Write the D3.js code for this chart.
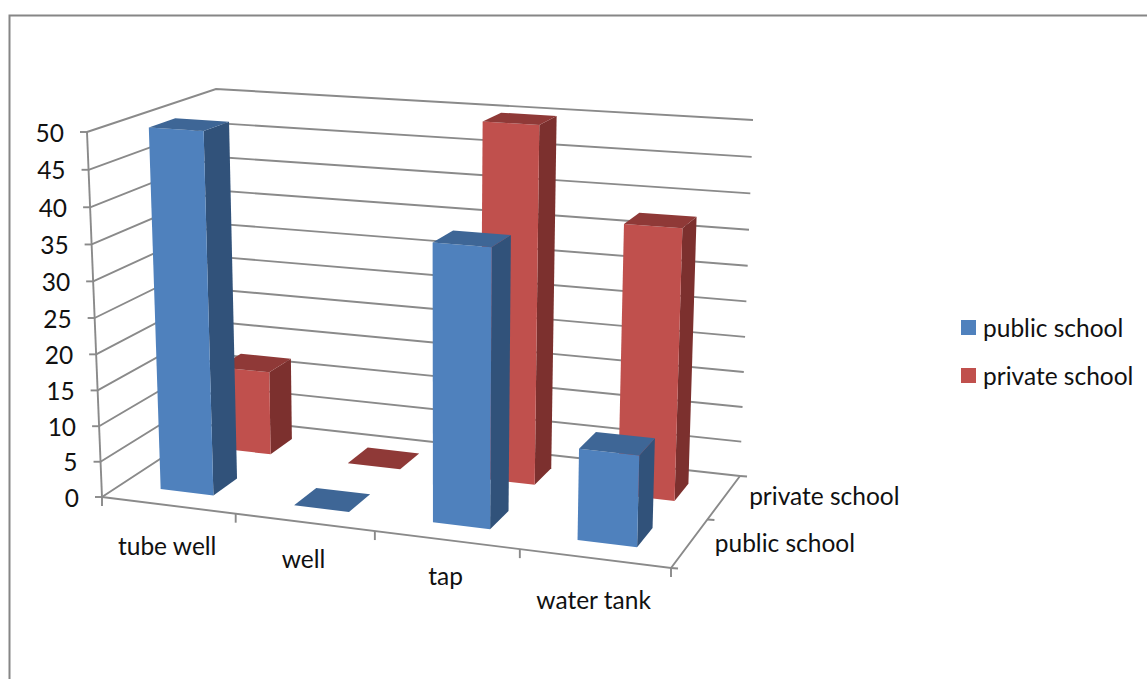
<!DOCTYPE html>
<html>
<head>
<meta charset="utf-8">
<script src="https://cdnjs.cloudflare.com/ajax/libs/d3/7.8.5/d3.min.js"></script>
<style>
  html, body { margin: 0; padding: 0; background: #fff; }
  svg { display: block; }
  text { font-family: Lato, "Open Sans", sans-serif; font-size: 24.5px; fill: #111; }
</style>
</head>
<body>
<svg id="chart" width="1147" height="679"></svg>
<script>
// Water source by school type
const categories = ["tube well", "well", "tap", "water tank"];
const seriesNames = ["public school", "private school"];
const publicValues = [50, 0, 37.5, 12.2];
const privateValues = [12.2, 0, 50, 37.5];
const yTicks = d3.range(0, 51, 5);

const seriesStyles = [
  { front: "#4f81bd", side: "#31527a", top: "#3e6696" },
  { front: "#c0504d", side: "#7c302e", top: "#8f3937" }
];
const gridColor = "#8a8a8a";

const width = 1147, height = 679;
const svg = d3.select("#chart").attr("viewBox", [0, 0, width, height]);

// Data coordinates to unit cube coordinates
const xUnit = d3.scaleLinear().domain([0, categories.length]).range([0, 1]);
const zUnit = d3.scaleLinear().domain([0, seriesNames.length]).range([0, 1]);
const yUnit = d3.scaleLinear().domain([0, 50]).range([0, 1]);

// Box corners on screen: front-left, front-right, back-right, back-left
const floorQuad = [[102, 497], [671, 568], [740, 476], [222, 418.5]];
const ceilingQuad = [[87, 132], [682, 171], [753, 120], [216, 89]];
// Height foreshortening: levels bunch slightly toward the floor
const heightBend = -0.0377;

// Square-to-quad homography
function quadMap(q) {
  const [[x0, y0], [x1, y1], [x2, y2], [x3, y3]] = q;
  const dx1 = x1 - x2, dx2 = x3 - x2, dx3 = x0 - x1 + x2 - x3;
  const dy1 = y1 - y2, dy2 = y3 - y2, dy3 = y0 - y1 + y2 - y3;
  const det = dx1 * dy2 - dx2 * dy1;
  const g = (dx3 * dy2 - dx2 * dy3) / det;
  const h = (dx1 * dy3 - dx3 * dy1) / det;
  const a = x1 - x0 + g * x1, b = x3 - x0 + h * x3;
  const d = y1 - y0 + g * y1, e = y3 - y0 + h * y3;
  return (u, t) => {
    const W = g * u + h * t + 1;
    return [(a * u + b * t + x0) / W, (d * u + e * t + y0) / W];
  };
}
const floorAt = quadMap(floorQuad), ceilingAt = quadMap(ceilingQuad);

// Project category position, series depth and value to the screen
function project(cat, depth, value) {
  const u = xUnit(cat), t = zUnit(depth), s = yUnit(value);
  const k = s * (1 + heightBend) / (1 + heightBend * s);
  const f = floorAt(u, t), c = ceilingAt(u, t);
  return [f[0] + (c[0] - f[0]) * k, f[1] + (c[1] - f[1]) * k];
}

const line = d3.line();
const polygon = pts => line(pts) + "Z";
const nCat = categories.length, nSer = seriesNames.length;

// Border of the chart area, running off the right and bottom edges
svg.append("path")
  .attr("d", `M9.5,${height}V15.5H${width}`)
  .attr("fill", "none").attr("stroke", "#868686").attr("stroke-width", 2);

// Wall gridlines
const grid = svg.append("g").attr("fill", "none").attr("stroke", gridColor).attr("stroke-width", 1.9);
grid.selectAll("path.wall").data(yTicks).join("path").attr("class", "wall")
  .attr("d", v => line([project(0, 0, v), project(0, nSer, v), project(nCat, nSer, v)]));

// Value axis and its tick marks
grid.append("path").attr("d", line([project(0, 0, 0), project(0, 0, 50)]));
grid.selectAll("path.ytick").data(yTicks).join("path").attr("class", "ytick")
  .attr("d", v => { const p = project(0, 0, v); return line([p, [p[0] - 7, p[1]]]); });

// Floor front and side edges with their tick marks
grid.append("path").attr("d", line([project(0, 0, 0), project(nCat, 0, 0), project(nCat, nSer, 0)]));
grid.selectAll("path.xtick").data(d3.range(nCat + 1)).join("path").attr("class", "xtick")
  .attr("d", i => { const p = project(i, 0, 0); return line([p, [p[0], p[1] + 9]]); });
grid.selectAll("path.ztick").data(d3.range(nSer + 1)).join("path").attr("class", "ztick")
  .attr("d", i => { const p = project(nCat, i, 0); return line([p, [p[0] + 7, p[1] + 0.5]]); });

// Bars take 40% of each category slot and series slot
const inset = 0.3, span = 0.4;
const bars = [];
[publicValues, privateValues].forEach((vals, s) =>
  vals.forEach((value, c) => bars.push({ s, c, value })));
// Painter's order: back row first, left to right
bars.sort((p, q) => d3.descending(p.s, q.s) || d3.ascending(p.c, q.c));

const barGroups = svg.selectAll("g.bar").data(bars).join("g").attr("class", "bar");
barGroups.each(function (b) {
  const g = d3.select(this), st = seriesStyles[b.s];
  const x0 = b.c + inset, x1 = x0 + span, z0 = b.s + inset, z1 = z0 + span;
  if (b.value > 0) {
    g.append("path").attr("fill", st.side).attr("d", polygon([
      project(x1, z0, 0), project(x1, z1, 0), project(x1, z1, b.value), project(x1, z0, b.value)]));
    g.append("path").attr("fill", st.front).attr("d", polygon([
      project(x0, z0, 0), project(x1, z0, 0), project(x1, z0, b.value), project(x0, z0, b.value)]));
  }
  g.append("path").attr("fill", st.top).attr("d", polygon([
    project(x0, z0, b.value), project(x1, z0, b.value), project(x1, z1, b.value), project(x0, z1, b.value)]));
});

// Value labels
svg.append("g").selectAll("text").data(yTicks).join("text")
  .attr("text-anchor", "end")
  .attr("dominant-baseline", "central")
  .attr("x", v => project(0, 0, v)[0] - 23)
  .attr("y", v => project(0, 0, v)[1])
  .text(v => v);

// Category labels sit below the front floor edge
const categoryLabelGap = [40, 36, 36, 41];
svg.append("g").selectAll("text").data(categories).join("text")
  .attr("text-anchor", "middle")
  .attr("dominant-baseline", "central")
  .attr("x", (d, i) => project(i + 0.5, 0, 0)[0] - 1)
  .attr("y", (d, i) => project(i + 0.5, 0, 0)[1] + categoryLabelGap[i])
  .text(d => d);

// Series labels along the depth axis
svg.append("g").selectAll("text").data(seriesNames).join("text")
  .attr("dominant-baseline", "central")
  .attr("x", (d, i) => project(nCat, i + 0.5, 0)[0] + 25)
  .attr("y", (d, i) => project(nCat, i + 0.5, 0)[1] - 1 - i)
  .text(d => d);

// Legend
const legend = svg.append("g").selectAll("g").data(seriesNames).join("g")
  .attr("transform", (d, i) => `translate(961,${320 + i * 48})`);
legend.append("rect").attr("width", 15).attr("height", 15)
  .attr("fill", (d, i) => seriesStyles[i].front);
legend.append("text").attr("x", 22).attr("y", 7).attr("dominant-baseline", "central").text(d => d);
</script>
</body>
</html>
